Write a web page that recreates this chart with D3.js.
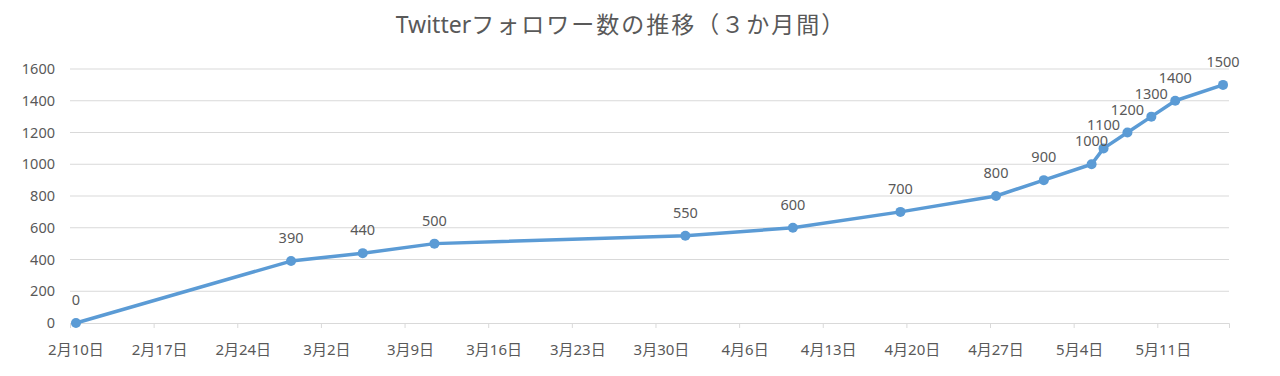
<!DOCTYPE html>
<html>
<head>
<meta charset="utf-8">
<script src="https://cdn.jsdelivr.net/npm/d3@7"></script>
<style>
  body { margin: 0; background: #fff; }
  svg text { font-family: "Noto Sans", "Noto Sans CJK JP", sans-serif; fill: #595959; }
</style>
</head>
<body>
<svg id="chart" width="1280" height="376"></svg>
<script>
// follower counts by date (2020, leap year)
const dates = ["2020-02-10", "2020-02-28", "2020-03-05", "2020-03-11", "2020-04-01", "2020-04-10",
               "2020-04-19", "2020-04-27", "2020-05-01", "2020-05-05", "2020-05-06", "2020-05-08",
               "2020-05-10", "2020-05-12", "2020-05-16"];
const followers = [0, 390, 440, 500, 550, 600, 700, 800, 900, 1000, 1100, 1200, 1300, 1400, 1500];
const yTicks = [0, 200, 400, 600, 800, 1000, 1200, 1400, 1600];
const xStart = "2020-02-10", xEnd = "2020-05-17";

const svg = d3.select("#chart");
const margin = {top: 69, right: 51, bottom: 53, left: 70};
const width = 1280, height = 376;
const parse = d3.timeParse("%Y-%m-%d");
const halfDay = 12 * 3600 * 1000;
const mid = d => new Date(+d + halfDay); // excel puts date points in the middle of the day slot

const x = d3.scaleTime()
    .domain([parse(xStart), parse(xEnd)])
    .range([margin.left, width - margin.right]);
const y = d3.scaleLinear()
    .domain([0, 1600])
    .range([height - margin.bottom, margin.top]);

const data = dates.map((d, i) => ({date: parse(d), value: followers[i]}));

// title
const title = svg.append("text")
    .attr("x", 621).attr("y", 33)
    .attr("text-anchor", "middle")
    .style("font-size", "23px");
title.append("tspan").text("Twitter");
title.append("tspan").style("letter-spacing", "2px").text("フォロワー数の推移（３か月間）");

// gridlines
svg.append("g").selectAll("line")
    .data(yTicks.filter(t => t > 0))
    .enter().append("line")
    .attr("x1", margin.left).attr("x2", width - margin.right)
    .attr("y1", d => y(d)).attr("y2", d => y(d))
    .attr("stroke", "#d9d9d9").attr("stroke-width", 1);

// y labels
svg.append("g").selectAll("text")
    .data(yTicks)
    .enter().append("text")
    .attr("x", 55).attr("y", d => y(d) + 5)
    .attr("text-anchor", "end")
    .style("font-size", "14.5px")
    .text(d => d);

// x axis, weekly ticks
const weekTicks = d3.timeDay.range(parse(xStart), parse(xEnd), 1).filter((d, i) => i % 7 === 0);
const xAxis = svg.append("g")
    .attr("transform", `translate(0,${y(0)})`)
    .call(d3.axisBottom(x).tickValues(weekTicks).tickSize(5).tickSizeOuter(5).tickFormat(""));
xAxis.select(".domain").attr("stroke", "#d9d9d9");
xAxis.selectAll(".tick line").attr("stroke", "#d9d9d9");

svg.append("g").selectAll("text")
    .data(weekTicks)
    .enter().append("text")
    .attr("x", d => x(mid(d)))
    .attr("y", 355)
    .attr("text-anchor", "middle")
    .style("font-size", "15px")
    .text(d => d3.timeFormat("%-m月%-d日")(d));

// line
const line = d3.line()
    .x(d => x(mid(d.date)))
    .y(d => y(d.value));

svg.append("path")
    .datum(data)
    .attr("fill", "none")
    .attr("stroke", "#5b9bd5")
    .attr("stroke-width", 3.5)
    .attr("stroke-linejoin", "round")
    .attr("d", line);

svg.append("g").selectAll("circle")
    .data(data)
    .enter().append("circle")
    .attr("cx", d => x(mid(d.date)))
    .attr("cy", d => y(d.value))
    .attr("r", 5)
    .attr("fill", "#5b9bd5");

// data labels
svg.append("g").selectAll("text")
    .data(data)
    .enter().append("text")
    .attr("x", d => x(mid(d.date)))
    .attr("y", d => y(d.value) - 18)
    .attr("text-anchor", "middle")
    .style("font-size", "14.5px")
    .text(d => d.value);
</script>
</body>
</html>
